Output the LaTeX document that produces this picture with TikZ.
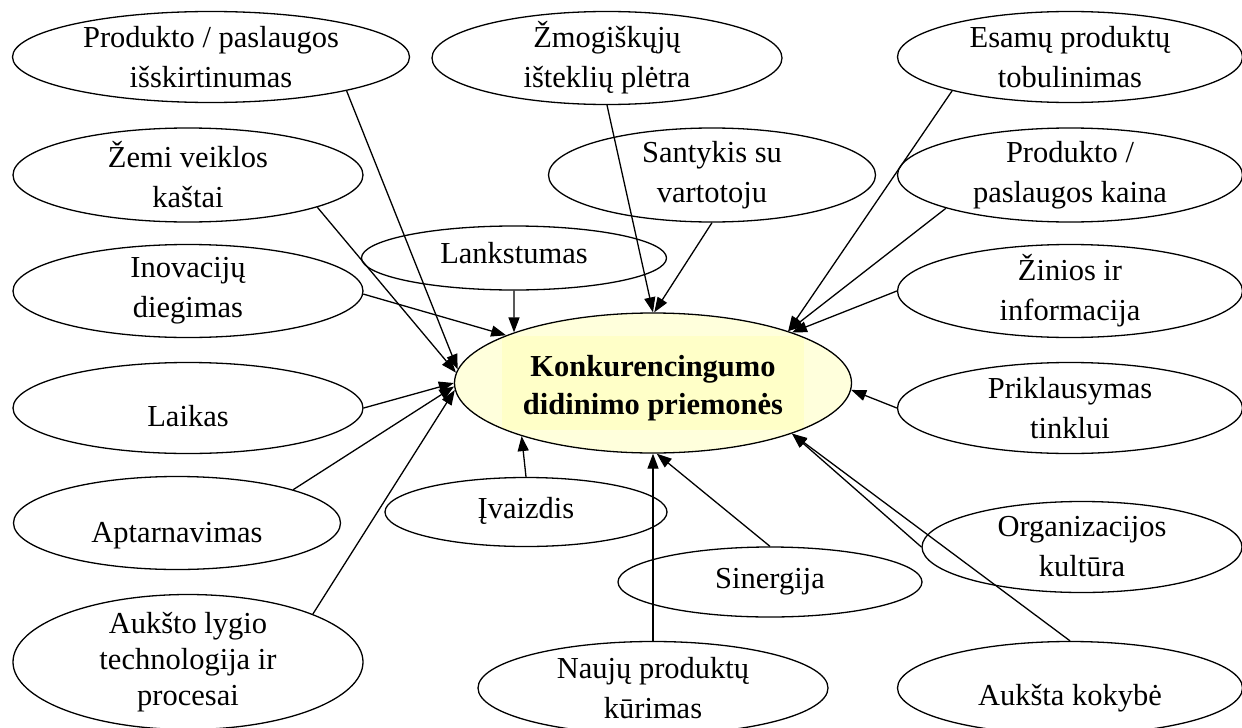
\documentclass[tikz,border=0pt]{standalone}
\usepackage{fontspec}
\setmainfont{Liberation Serif}
\usetikzlibrary{shapes.geometric,arrows.meta}

\definecolor{coreouter}{RGB}{255,255,220}
\definecolor{coreinner}{RGB}{255,255,200}

\tikzset{
  bub/.style={draw, ellipse, line width=1.3pt, fill=white, align=center,
    inner xsep=0pt, inner ysep=-14pt,
    font=\fontsize{30.5}{40}\selectfont},
  % single-line labels sit a little below or above the ellipse centre
  low/.style={text height=#1, text depth=0pt},
  high/.style={text depth=#1},
  link/.style={line width=1.3pt, -{Triangle[length=15pt,width=11pt]}},
}

\begin{document}
\begin{tikzpicture}[x=1pt, y=-1pt]
\useasboundingbox (0,0) rectangle (1242,728);

% left column
\node[bub, minimum width=397pt, minimum height=91pt]  (isk)  at (211,57)  {Produkto / paslaugos\\išskirtinumas};
\node[bub, minimum width=350pt, minimum height=94pt]  (zemi) at (188,175) {Žemi veiklos\\kaštai};
\node[bub, minimum width=350pt, minimum height=93pt]  (inov) at (188,291) {Inovacijų\\diegimas};
\node[bub, low=36pt, minimum width=350pt, minimum height=91pt]  (laik) at (188,408) {Laikas};
\node[bub, low=38pt, minimum width=327pt, minimum height=93pt]  (apt)  at (177,523) {Aptarnavimas};
\node[bub, minimum width=350pt, minimum height=135pt, font=\fontsize{30.5}{36}\selectfont]
     (tech) at (188,662) {Aukšto lygio\\technologija ir\\procesai};

% middle
\node[bub, minimum width=350pt, minimum height=93pt]  (zmog) at (607,58)  {Žmogiškųjų\\išteklių plėtra};
\node[bub, minimum width=327pt, minimum height=94pt]  (sant) at (712,175) {Santykis su\\vartotoju};
\node[bub, high=11pt, minimum width=305pt, minimum height=64pt]  (lank) at (514,258) {Lankstumas};
\node[bub, high=8pt, minimum width=282pt, minimum height=69pt]   (ivz)  at (526,512) {Įvaizdis};
\node[bub, high=8pt, minimum width=304pt, minimum height=70pt]   (sin)  at (770,582) {Sinergija};
\node[bub, minimum width=350pt, minimum height=93pt]  (nauj) at (653,688) {Naujų produktų\\kūrimas};

% right column
\node[bub, minimum width=345pt, minimum height=91pt]  (esam) at (1070,57)  {Esamų produktų\\tobulinimas};
\node[bub, minimum width=345pt, minimum height=94pt]  (kain) at (1070,175) {Produkto /\\paslaugos kaina};
\node[bub, minimum width=345pt, minimum height=93pt]  (zin)  at (1070,291) {Žinios ir\\informacija};
\node[bub, minimum width=345pt, minimum height=91pt]  (prik) at (1070,408) {Priklausymas\\tinklui};
\node[bub, minimum width=320pt, minimum height=91pt]  (org)  at (1082,547) {Organizacijos\\kultūra};
\node[bub, low=34pt, minimum width=345pt, minimum height=93pt]  (koky) at (1070,688) {Aukšta kokybė};

% central node
\node[bub, fill=coreouter, minimum width=397pt, minimum height=140pt,
      font=\fontsize{30.5}{38}\selectfont\bfseries,
      path picture={\fill[coreinner]
        ([xshift=-151pt,yshift=-47pt]path picture bounding box.center)
        rectangle ([xshift=151pt,yshift=47pt]path picture bounding box.center);}]
     (core) at (653,383) {\rule{0pt}{32pt}Konkurencingumo\\didinimo priemonės};

% connectors
\draw[link] (isk.-14)    -- (core.176);
\draw[link] (zemi.-14)   -- (core.177);
\draw[link] (inov.-1)    -- (core.162);
\draw[link] (laik.east)  -- (core.180);
\draw[link] (apt.16)     -- (core.181);
\draw[link] (tech.21)    -- (core.182);
\draw[link] (lank.south) -- (core.160);
\draw[link] (zmog.south) -- (core.90);
\draw[link] (sant.south) -- (core.89);
\draw[link] (esam.196)   -- (core.21);
\draw[link] (kain.195)   -- (core.21);
\draw[link] (zin.west)   -- (core.20);
\draw[link] (prik.west)  -- (core.358);
\draw[link] (org.west)   -- (core.340);
\draw[link] (koky.north) -- (core.340);
\draw[link] (ivz.north)  -- (core.202);
\draw[link] (sin.north)  -- (core.273);
\draw[link] (nauj.north) -- (core.south);
\end{tikzpicture}
\end{document}
